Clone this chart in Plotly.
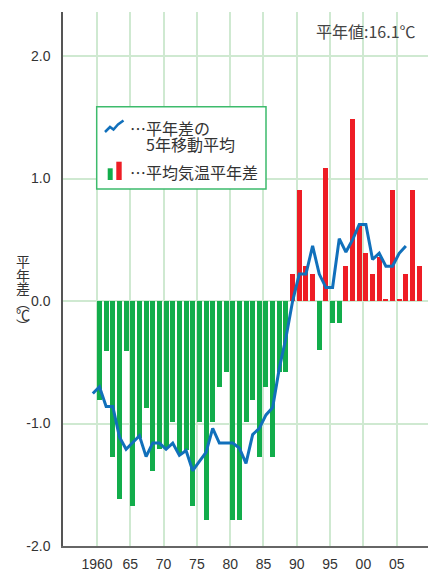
import plotly.graph_objects as go

# ---------------- data ----------------
years = list(range(1960, 2009))
anomaly = [
    -0.81, -0.41, -1.27, -1.62, -0.41, -1.67, -1.12, -0.87, -1.39, -1.21,   # 1960-69
    -1.20, -0.99, -1.25, -1.22, -1.67, -0.99, -1.79, -0.99, -0.70, -0.58,   # 1970-79
    -1.79, -1.79, -0.99, -0.81, -1.27, -0.70, -1.27, -0.58, -0.58, 0.22,    # 1980-89
    0.91, 0.29, 0.22, -0.40, 1.09, -0.18, -0.18, 0.29, 1.49, 0.61,          # 1990-99
    0.39, 0.22, 0.36, 0.02, 0.91, 0.02, 0.22, 0.91, 0.29,                   # 2000-08
]
ma_years = list(range(1959, 2007))
moving_avg = [
    -0.755,                                                                   # 1959
    -0.70, -0.86, -0.86, -1.11, -1.21, -1.155, -1.10, -1.27, -1.16, -1.16,   # 1960-69
    -1.21, -1.16, -1.26, -1.22, -1.385, -1.31, -1.235, -1.04, -1.16, -1.16,  # 1970-79
    -1.16, -1.20, -1.325, -1.09, -1.04, -0.93, -0.87, -0.55, -0.30, 0.00,    # 1980-89
    0.22, 0.22, 0.45, 0.22, 0.11, 0.11, 0.51, 0.40, 0.50, 0.625,             # 1990-99
    0.625, 0.34, 0.39, 0.285, 0.285, 0.39, 0.45,                             # 2000-06
]
tick_years = [1960, 1965, 1970, 1975, 1980, 1985, 1990, 1995, 2000, 2005, 2010]
tick_labels = ["1960", "65", "70", "75", "80", "85", "90", "95", "00", "05", ""]
y_ticks = [-2, -1, 0, 1, 2]
y_tick_labels = ["-2.0", "-1.0", "0.0", "1.0", "2.0"]

# ---------------- styles ----------------
GREEN = "#12ad4b"
RED = "#ee1d25"
BLUE = "#1170bb"
GRID = "#cfe9d1"
BAR_W = 0.75
LATIN = "Liberation Sans, Arial, Noto Sans CJK JP, sans-serif"
CJK = "Noto Sans CJK JP, sans-serif"

# the page body has an 8px default margin, so the figure is sized to fit the window
BODY = 8
SCREEN_W, SCREEN_H = 436, 571
W, H = SCREEN_W - BODY, SCREEN_H - BODY
PLOT_L, PLOT_R, PLOT_T, PLOT_B = 63, 430, 12, 546     # plot area in window pixels
ML, MR, MT, MB = PLOT_L - BODY, SCREEN_W - PLOT_R, PLOT_T - BODY, SCREEN_H - PLOT_B
PW, PH = PLOT_R - PLOT_L, PLOT_B - PLOT_T


def px(x):
    return (x - PLOT_L) / PW


def py(y):
    return (PLOT_B - y) / PH


bar_colors = [RED if v >= 0 else GREEN for v in anomaly]

fig = go.Figure()
fig.add_trace(go.Bar(x=years, y=anomaly, width=BAR_W, marker=dict(color=bar_colors, line=dict(width=0)),
                     showlegend=False, hoverinfo="x+y"))
fig.add_trace(go.Scatter(x=ma_years, y=moving_avg, mode="lines",
                         line=dict(color=BLUE, width=3), showlegend=False))

x_lo = tick_years[0] - BAR_W / 2 - 5.1
x_hi = tick_years[-1] - BAR_W / 2

fig.update_layout(
    width=W, height=H,
    margin=dict(l=ML, r=MR, t=MT, b=MB, pad=0, autoexpand=False),
    paper_bgcolor="white", plot_bgcolor="white",
    bargap=0,
    font=dict(family=LATIN, size=14, color="#333333"),
    xaxis=dict(
        range=[x_lo, x_hi], automargin=False,
        tickvals=[t - BAR_W / 2 for t in tick_years], ticktext=tick_labels,
        showgrid=True, gridcolor=GRID, gridwidth=1.5,
        showline=True, linecolor="#666666", linewidth=1.5,
        ticks="", zeroline=False, ticklabelstandoff=4,
        tickfont=dict(family=LATIN, size=14, color="#333333"),
    ),
    yaxis=dict(
        range=[-2.0, 2.36], automargin=False,
        tickvals=y_ticks, ticktext=y_tick_labels,
        showgrid=True, gridcolor=GRID, gridwidth=1.5,
        showline=True, linecolor="#555555", linewidth=1.5,
        ticks="", zeroline=False, ticklabelstandoff=8,
        tickfont=dict(family=LATIN, size=14, color="#333333"),
    ),
)

# legend box (drawn as shapes/annotations)
shapes = [
    dict(type="rect", xref="paper", yref="paper", x0=px(96.7), x1=px(266), y0=py(189), y1=py(106.7),
         line=dict(color="#3dbb6c", width=1.5), fillcolor="white", layer="above"),
    dict(type="path", xref="paper", yref="paper", layer="above",
         path="M {} {} L {} {} L {} {} L {} {} L {} {}".format(
             px(105), py(132), px(110), py(127), px(113.5), py(129.5), px(118), py(124.5), px(123.5), py(120.5)),
         line=dict(color=BLUE, width=2.5)),
    dict(type="rect", xref="paper", yref="paper", x0=px(107.7), x1=px(112.7), y0=py(180), y1=py(168.3),
         line=dict(width=0), fillcolor=GREEN, layer="above"),
    dict(type="rect", xref="paper", yref="paper", x0=px(116.3), x1=px(121.7), y0=py(180), y1=py(161.7),
         line=dict(width=0), fillcolor=RED, layer="above"),
]

annotations = [
    dict(text="⋯平年差の", x=px(128), y=py(127.5), xanchor="left", yanchor="middle"),
    dict(text="5年移動平均", x=px(144), y=py(143.5), xanchor="left", yanchor="middle"),
    dict(text="⋯平均気温平年差", x=px(128), y=py(171.5), xanchor="left", yanchor="middle"),
    dict(text="平年値:16.1℃", x=px(418), y=py(31), xanchor="right", yanchor="middle",
         font=dict(family=CJK, size=16, color="#444444")),
]
for a in annotations:
    a.update(xref="paper", yref="paper", showarrow=False)
    a.setdefault("font", dict(family=CJK, size=16, color="#333333"))

ytitle_chars = ["平", "年", "差", "︵", "℃", "︶"]
ytitle_pos = [261, 274.5, 288, 301.5, 313.5, 325.5]
for ch, yy in zip(ytitle_chars, ytitle_pos):
    annotations.append(dict(text=ch, x=px(23), y=py(yy), xref="paper", yref="paper",
                            xanchor="center", yanchor="middle", showarrow=False,
                            font=dict(family=CJK, size=14, color="#333333")))

fig.update_layout(shapes=shapes, annotations=annotations)
fig.write_html("out.html")
